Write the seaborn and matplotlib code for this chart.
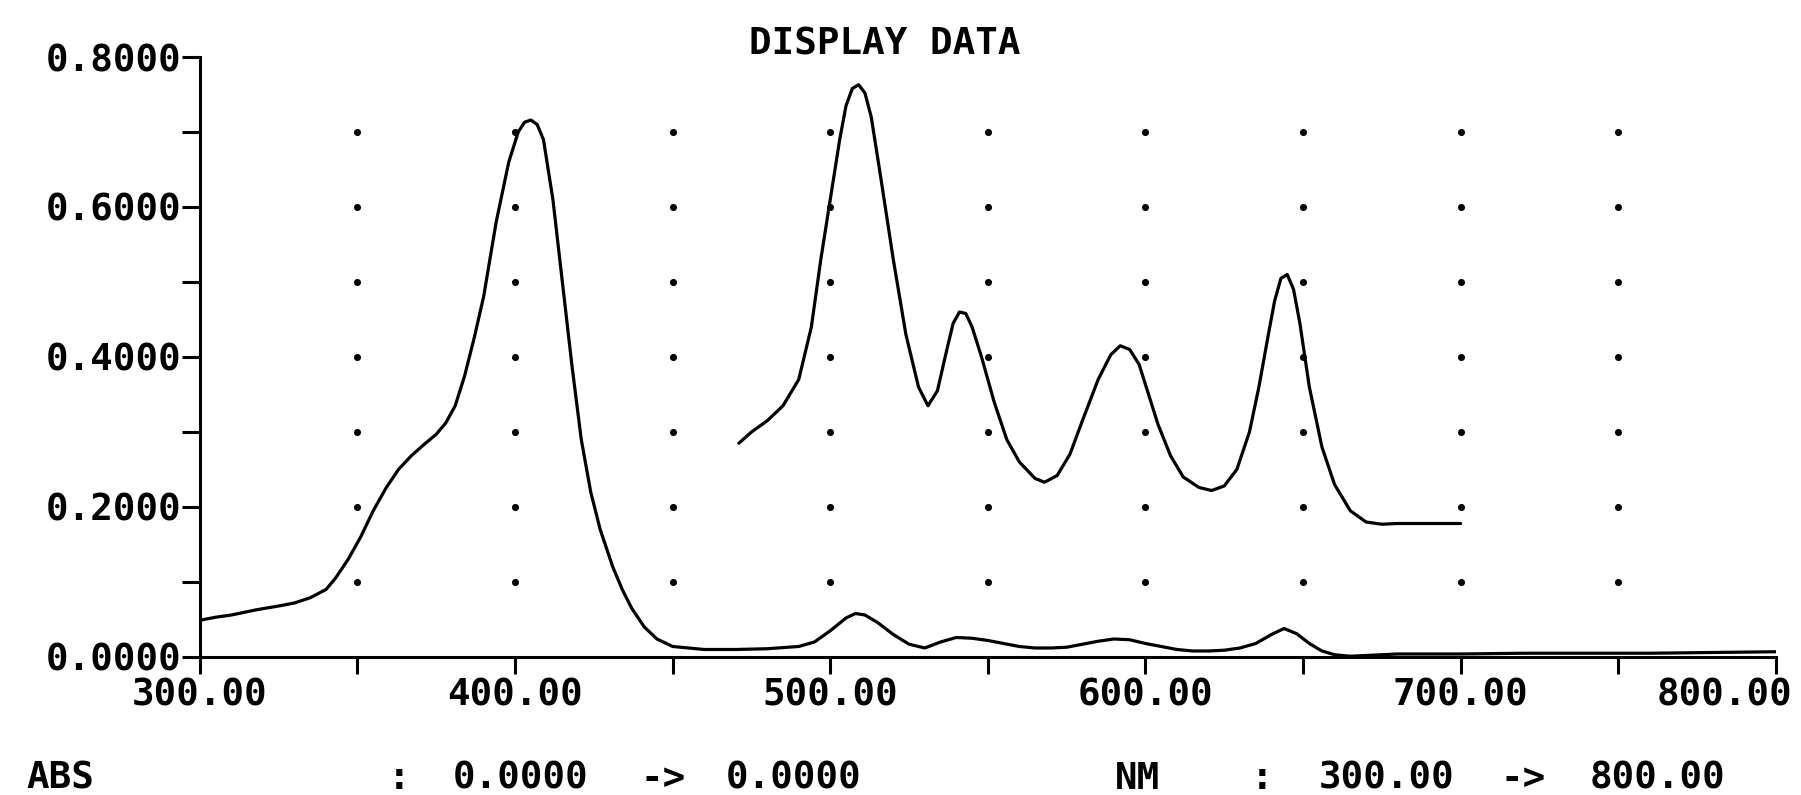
import numpy as np
import matplotlib.pyplot as plt
import matplotlib.transforms as mtransforms
import seaborn as sns

# main scan 300-800 nm
main_nm = [300, 305, 310, 318, 325, 330, 335, 340, 343, 347, 351, 355, 359, 363,
           367, 371, 375, 378, 381, 384, 387, 390, 394, 398, 401, 403, 405, 407,
           409, 412, 415, 418, 421, 424, 427, 431, 434, 437, 441, 445, 450, 460,
           470, 480, 490, 495, 500, 505, 508, 511, 515, 520, 525, 530, 535, 540,
           545, 550, 555, 560, 565, 570, 575, 580, 585, 590, 595, 600, 605, 610,
           615, 620, 625, 630, 635, 640, 644, 648, 652, 656, 660, 665, 670, 680,
           700, 720, 740, 760, 780, 800]
main_abs = [0.049, 0.053, 0.056, 0.063, 0.068, 0.072, 0.079, 0.090, 0.105, 0.130,
            0.160, 0.195, 0.225, 0.250, 0.268, 0.283, 0.297, 0.312, 0.335, 0.375,
            0.425, 0.480, 0.580, 0.660, 0.700, 0.713, 0.716, 0.710, 0.690, 0.610,
            0.500, 0.390, 0.290, 0.220, 0.170, 0.120, 0.090, 0.065, 0.040, 0.024,
            0.014, 0.010, 0.010, 0.011, 0.014, 0.020, 0.035, 0.052, 0.058, 0.056,
            0.046, 0.030, 0.017, 0.012, 0.020, 0.026, 0.025, 0.022, 0.018, 0.014,
            0.012, 0.012, 0.013, 0.017, 0.021, 0.024, 0.023, 0.018, 0.014, 0.010,
            0.008, 0.008, 0.009, 0.012, 0.018, 0.030, 0.038, 0.031, 0.018, 0.008,
            0.003, 0.001, 0.002, 0.004, 0.004, 0.005, 0.005, 0.005, 0.006, 0.007]

# second (expanded) scan 470-700 nm
upper_nm = [471, 475, 480, 485, 490, 494, 497, 500, 503, 505, 507, 509, 511, 513,
            516, 520, 524, 528, 531, 534, 537, 539, 541, 543, 545, 548, 552, 556,
            560, 565, 568, 572, 576, 580, 585, 589, 592, 595, 598, 601, 604, 608,
            612, 617, 621, 625, 629, 633, 636, 639, 641, 643, 645, 647, 649, 652,
            656, 660, 665, 670, 675, 680, 690, 700]
upper_abs = [0.285, 0.300, 0.315, 0.335, 0.370, 0.440, 0.530, 0.610, 0.690, 0.735,
             0.758, 0.763, 0.752, 0.720, 0.640, 0.530, 0.430, 0.360, 0.335, 0.355,
             0.410, 0.445, 0.460, 0.458, 0.440, 0.400, 0.340, 0.290, 0.260, 0.238,
             0.233, 0.242, 0.270, 0.315, 0.370, 0.403, 0.415, 0.410, 0.390, 0.350,
             0.310, 0.268, 0.240, 0.226, 0.222, 0.228, 0.250, 0.300, 0.360, 0.430,
             0.475, 0.505, 0.510, 0.490, 0.445, 0.360, 0.280, 0.230, 0.195, 0.180,
             0.177, 0.178, 0.178, 0.178]

x_major = [300, 400, 500, 600, 700, 800]
x_minor = [350, 450, 550, 650, 750]
y_major = [0.0, 0.2, 0.4, 0.6, 0.8]
y_minor = [0.1, 0.3, 0.5, 0.7]
dot_x = [350, 400, 450, 500, 550, 600, 650, 700, 750]
dot_y = [0.1, 0.2, 0.3, 0.4, 0.5, 0.6, 0.7]

sns.set_style("ticks")
plt.rcParams['font.family'] = ['DejaVu Sans Mono']
plt.rcParams['font.weight'] = 'bold'
plt.rcParams['text.color'] = 'black'

fig = plt.figure(figsize=(18.01, 7.95), dpi=100)
ax = fig.add_axes([0.111, 0.1736, 0.875, 0.7547])

# dotted grid
gx, gy = np.meshgrid(dot_x, dot_y)
ax.scatter(gx.ravel(), gy.ravel(), s=26, color="black", linewidths=0, zorder=1)

sns.lineplot(x=main_nm, y=main_abs, ax=ax, color="black", lw=2.3, zorder=3)
sns.lineplot(x=upper_nm, y=upper_abs, ax=ax, color="black", lw=2.3, zorder=3)

ax.set_xlim(300, 800)
ax.set_ylim(0, 0.8)
ax.set_xticks(x_major)
ax.set_xticks(x_minor, minor=True)
ax.set_yticks(y_major)
ax.set_yticks(y_minor, minor=True)
ax.set_xticklabels(["%.2f" % v for v in x_major])
ax.set_yticklabels(["%.4f" % v for v in y_major])
ax.tick_params(axis="both", which="both", direction="out", width=2.2,
               color="black", labelcolor="black", labelsize=27)
ax.tick_params(axis="x", which="both", length=12, pad=3)
ax.tick_params(axis="y", which="both", length=13, pad=0)

# last x label sits flush with the right edge
last = ax.get_xticklabels()[-1]
last.set_horizontalalignment("right")
last.set_transform(last.get_transform() +
                   mtransforms.ScaledTranslation(0.17, 0, fig.dpi_scale_trans))

sns.despine(ax=ax)
for s in ["left", "bottom"]:
    ax.spines[s].set_linewidth(2.2)
    ax.spines[s].set_color("black")

ax.set_xlabel("")
ax.set_ylabel("")
fig.text(0.491, 0.931, "DISPLAY DATA", fontsize=27, fontweight="bold",
         ha="center", va="baseline")

fs = 27
yb = 0.008
fig.text(0.0144, yb, "ABS", fontsize=fs, va="baseline")
fig.text(0.2154, yb, ":", fontsize=fs, va="baseline")
fig.text(0.2515, yb, "0.0000", fontsize=fs, va="baseline")
fig.text(0.3554, yb, "->", fontsize=fs, va="baseline")
fig.text(0.4031, yb, "0.0000", fontsize=fs, va="baseline")
fig.text(0.6191, yb, "NM", fontsize=fs, va="baseline")
fig.text(0.6946, yb, ":", fontsize=fs, va="baseline")
fig.text(0.7324, yb, "300.00", fontsize=fs, va="baseline")
fig.text(0.8329, yb, "->", fontsize=fs, va="baseline")
fig.text(0.8828, yb, "800.00", fontsize=fs, va="baseline")

fig.savefig("out.png", dpi=100, facecolor="white")
